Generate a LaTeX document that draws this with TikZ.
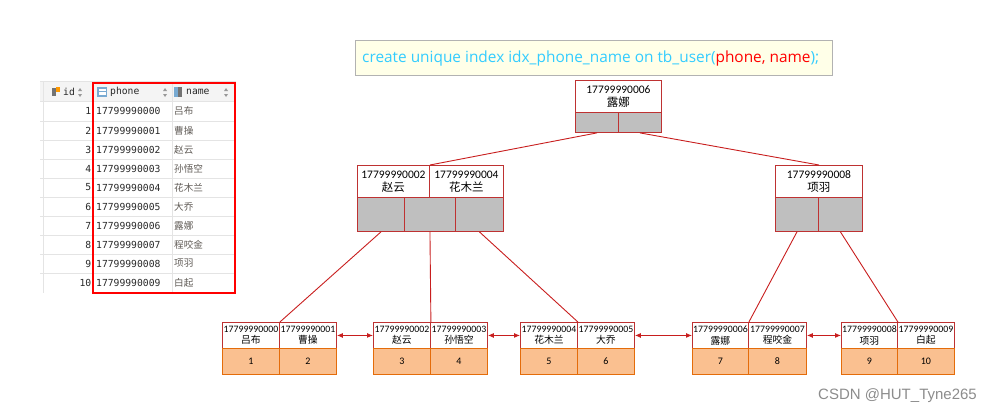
\documentclass[tikz,border=0pt]{standalone}
\usepackage{fontspec}
\setmainfont{Carlito}
\newfontfamily\cjk{Noto Sans CJK SC}
\newfontfamily\sqlfont{Open Sans}
\newfontfamily\gridmono{DejaVu Sans Mono}
\newfontfamily\markfont{Liberation Sans}
\usetikzlibrary{arrows.meta}
\definecolor{nodered}{RGB}{190,50,50}
\definecolor{linkred}{RGB}{200,30,30}
\definecolor{cellgrey}{RGB}{191,191,191}
\definecolor{leaffill}{RGB}{250,192,144}
\definecolor{leafedge}{RGB}{228,108,10}
\definecolor{sqlback}{RGB}{255,255,232}
\definecolor{sqlblue}{RGB}{51,204,255}
\definecolor{tblhead}{RGB}{244,244,244}
\definecolor{tblline}{RGB}{228,228,228}
\definecolor{tbltext}{RGB}{40,40,40}
\definecolor{tblname}{RGB}{95,90,85}
\definecolor{iconblue}{RGB}{120,170,210}
\begin{document}
\begin{tikzpicture}[x=1pt, y=-1pt,
  keycell/.style={draw=nodered, fill=white, line width=0.9pt, inner sep=0pt, anchor=north west,
    align=center, minimum height=32pt, font=\fontsize{11.5}{13}\selectfont},
  ptrcell/.style={draw=nodered, fill=cellgrey, line width=0.9pt, inner sep=0pt, anchor=north west},
  leafkey/.style={draw=nodered, fill=white, line width=0.9pt, inner sep=0pt, anchor=north west,
    align=center, minimum height=26pt, font=\fontsize{9.8}{11.5}\selectfont},
  leafval/.style={draw=leafedge, fill=leaffill, line width=0.9pt, inner sep=0pt, anchor=north west,
    minimum height=26pt, font=\fontsize{10}{11}\selectfont},
  link/.style={draw=linkred, line width=0.9pt},
  sibling/.style={draw=linkred, line width=0.9pt, {Latex[length=6pt,width=5pt]}-{Latex[length=6pt,width=5pt]}},
  tblid/.style={anchor=east, inner sep=0pt, text=tbltext, font=\gridmono\fontsize{9.7}{10}\selectfont},
  tblphone/.style={anchor=west, inner sep=0pt, text=tbltext, font=\gridmono\fontsize{9.7}{10}\selectfont},
  tblname/.style={anchor=west, inner sep=0pt, text=tblname, font=\cjk\fontsize{9.6}{10}\selectfont},
  tblhdr/.style={anchor=west, inner sep=0pt, text=tbltext, font=\gridmono\fontsize{9.7}{10}\selectfont},
  sortmark/.style={fill=black!40}]
\useasboundingbox (0,0) rectangle (998,415);

% Table of tb_user
\fill[tblhead] (40,81) rectangle (236,101);
\begin{scope}[draw=tblline, line width=0.8pt]
  \draw (40,81) -- (236,81);
  \draw (40,101) -- (236,101);
  \draw (40,121) -- (236,121);
  \draw (40,140) -- (236,140);
  \draw (40,159) -- (236,159);
  \draw (40,178) -- (236,178);
  \draw (40,197) -- (236,197);
  \draw (40,216) -- (236,216);
  \draw (40,235) -- (236,235);
  \draw (40,254) -- (236,254);
  \draw (40,273) -- (236,273);
  \draw (43,81) -- (43,293);
  \draw (172,81) -- (172,293);
\end{scope}
% Header icons and sort marks
\fill[black!55] (52,88) rectangle (56,96);
\fill[orange!80!yellow] (56,87) rectangle (60,92);
\fill[sortmark] (80,88) -- (82,91) -- (78,91) -- cycle;
\fill[sortmark] (80,97) -- (82,94) -- (78,94) -- cycle;
\fill[iconblue] (97,87) rectangle (107,97);
\fill[white] (99,89) rectangle (106,95);
\fill[iconblue] (99,91) rectangle (106,92);
\fill[sortmark] (165,88) -- (167,91) -- (163,91) -- cycle;
\fill[sortmark] (165,97) -- (167,94) -- (163,94) -- cycle;
\fill[iconblue] (174,87) rectangle (178,97);
\fill[black!55] (178,87) rectangle (182,97);
\fill[sortmark] (226,88) -- (228,91) -- (224,91) -- cycle;
\fill[sortmark] (226,97) -- (228,94) -- (224,94) -- cycle;
\node[tblhdr] (hid) at (63,92) {id};
\node[tblhdr] (hphone) at (110,92) {phone};
\node[tblhdr] (hname) at (186,92) {name};
% Rows
\node[tblid] (id1) at (91.5,111) {1};
\node[tblphone] (ph1) at (96,111) {17799990000};
\node[tblname] (nm1) at (174,111) {吕布};
\node[tblid] (id2) at (91.5,130.5) {2};
\node[tblphone] (ph2) at (96,130.5) {17799990001};
\node[tblname] (nm2) at (174,130.5) {曹操};
\node[tblid] (id3) at (91.5,149.5) {3};
\node[tblphone] (ph3) at (96,149.5) {17799990002};
\node[tblname] (nm3) at (174,149.5) {赵云};
\node[tblid] (id4) at (91.5,168.5) {4};
\node[tblphone] (ph4) at (96,168.5) {17799990003};
\node[tblname] (nm4) at (174,168.5) {孙悟空};
\node[tblid] (id5) at (91.5,187.5) {5};
\node[tblphone] (ph5) at (96,187.5) {17799990004};
\node[tblname] (nm5) at (174,187.5) {花木兰};
\node[tblid] (id6) at (91.5,206.5) {6};
\node[tblphone] (ph6) at (96,206.5) {17799990005};
\node[tblname] (nm6) at (174,206.5) {大乔};
\node[tblid] (id7) at (91.5,225.5) {7};
\node[tblphone] (ph7) at (96,225.5) {17799990006};
\node[tblname] (nm7) at (174,225.5) {露娜};
\node[tblid] (id8) at (91.5,244.5) {8};
\node[tblphone] (ph8) at (96,244.5) {17799990007};
\node[tblname] (nm8) at (174,244.5) {程咬金};
\node[tblid] (id9) at (91.5,263.5) {9};
\node[tblphone] (ph9) at (96,263.5) {17799990008};
\node[tblname] (nm9) at (174,263.5) {项羽};
\node[tblid] (id10) at (91.5,283) {10};
\node[tblphone] (ph10) at (96,283) {17799990009};
\node[tblname] (nm10) at (174,283) {白起};
% Red frame round phone and name
\draw[red, line width=2pt] (93,83) rectangle (235,293);

% SQL statement
\draw[fill=sqlback, draw=black!30, line width=1pt] (355,40) rectangle (832,75);
\node[anchor=west, inner sep=0pt, font=\sqlfont\fontsize{15.4}{17}\selectfont, text=sqlblue] (sql) at (362,58.5)
  {create unique index idx\_phone\_name on tb\_user(\textcolor{red}{phone, name});};

% Root node
\node[keycell, minimum width=86pt] (rk1) at (575,80) {17799990006\\{\cjk 露娜}};
\node[ptrcell, minimum width=43pt, minimum height=20pt] (rp1) at (575,112) {};
\node[ptrcell, minimum width=43pt, minimum height=20pt] (rp2) at (618,112) {};

% Left inner node
\node[keycell, minimum width=72pt] (ak1) at (357,165) {17799990002\\{\cjk 赵云}};
\node[keycell, minimum width=74pt] (ak2) at (429,165) {17799990004\\{\cjk 花木兰}};
\node[ptrcell, minimum width=47pt, minimum height=34pt] (ap1) at (357,197) {};
\node[ptrcell, minimum width=51pt, minimum height=34pt] (ap2) at (404,197) {};
\node[ptrcell, minimum width=48pt, minimum height=34pt] (ap3) at (455,197) {};

% Right inner node
\node[keycell, minimum width=87pt] (bk1) at (775,165) {17799990008\\{\cjk 项羽}};
\node[ptrcell, minimum width=43pt, minimum height=34pt] (bp1) at (775,197) {};
\node[ptrcell, minimum width=44pt, minimum height=34pt] (bp2) at (818,197) {};

% Leaf nodes
\node[leafkey, minimum width=57pt] (l1a) at (222,322) {17799990000\\{\cjk 吕布}};
\node[leafkey, minimum width=57pt] (l1b) at (279,322) {17799990001\\{\cjk 曹操}};
\node[leafval, minimum width=57pt] (v1) at (222,348) {1};
\node[leafval, minimum width=57pt] (v2) at (279,348) {2};
\node[leafkey, minimum width=57pt] (l2a) at (373,322) {17799990002\\{\cjk 赵云}};
\node[leafkey, minimum width=57pt] (l2b) at (430,322) {17799990003\\{\cjk 孙悟空}};
\node[leafval, minimum width=57pt] (v3) at (373,348) {3};
\node[leafval, minimum width=57pt] (v4) at (430,348) {4};
\node[leafkey, minimum width=57pt] (l3a) at (520,322) {17799990004\\{\cjk 花木兰}};
\node[leafkey, minimum width=57pt] (l3b) at (577,322) {17799990005\\{\cjk 大乔}};
\node[leafval, minimum width=57pt] (v5) at (520,348) {5};
\node[leafval, minimum width=57pt] (v6) at (577,348) {6};
\node[leafkey, minimum width=56pt] (l4a) at (692,322) {17799990006\\{\cjk 露娜}};
\node[leafkey, minimum width=58pt] (l4b) at (748,322) {17799990007\\{\cjk 程咬金}};
\node[leafval, minimum width=56pt] (v7) at (692,348) {7};
\node[leafval, minimum width=58pt] (v8) at (748,348) {8};
\node[leafkey, minimum width=56pt] (l5a) at (841,322) {17799990008\\{\cjk 项羽}};
\node[leafkey, minimum width=57pt] (l5b) at (897,322) {17799990009\\{\cjk 白起}};
\node[leafval, minimum width=56pt] (v9) at (841,348) {9};
\node[leafval, minimum width=57pt] (v10) at (897,348) {10};

% Pointers between levels
\draw[link] (rp1.south) -- (ak1.north east);
\draw[link] (rp2.south) -- (bk1.north);
\draw[link] (ap1.south) -- (l1a.north east);
\draw[link] (ap2.south) -- (l2a.north east);
\draw[link] (ap3.south) -- (l3a.north east);
\draw[link] (bp1.south) -- (l4a.north east);
\draw[link] (bp2.south) -- (l5a.north east);

% Leaf chain
\draw[sibling] (l1b.east) -- (l2a.west);
\draw[sibling] (l2b.east) -- (l3a.west);
\draw[sibling] (l3b.east) -- (l4a.west);
\draw[sibling] (l4b.east) -- (l5a.west);

% Watermark
\node[anchor=west, inner sep=0pt, text=black!45, font=\markfont\fontsize{15}{17}\selectfont] (mark) at (818,396) {CSDN @HUT\_Tyne265};
\end{tikzpicture}
\end{document}
